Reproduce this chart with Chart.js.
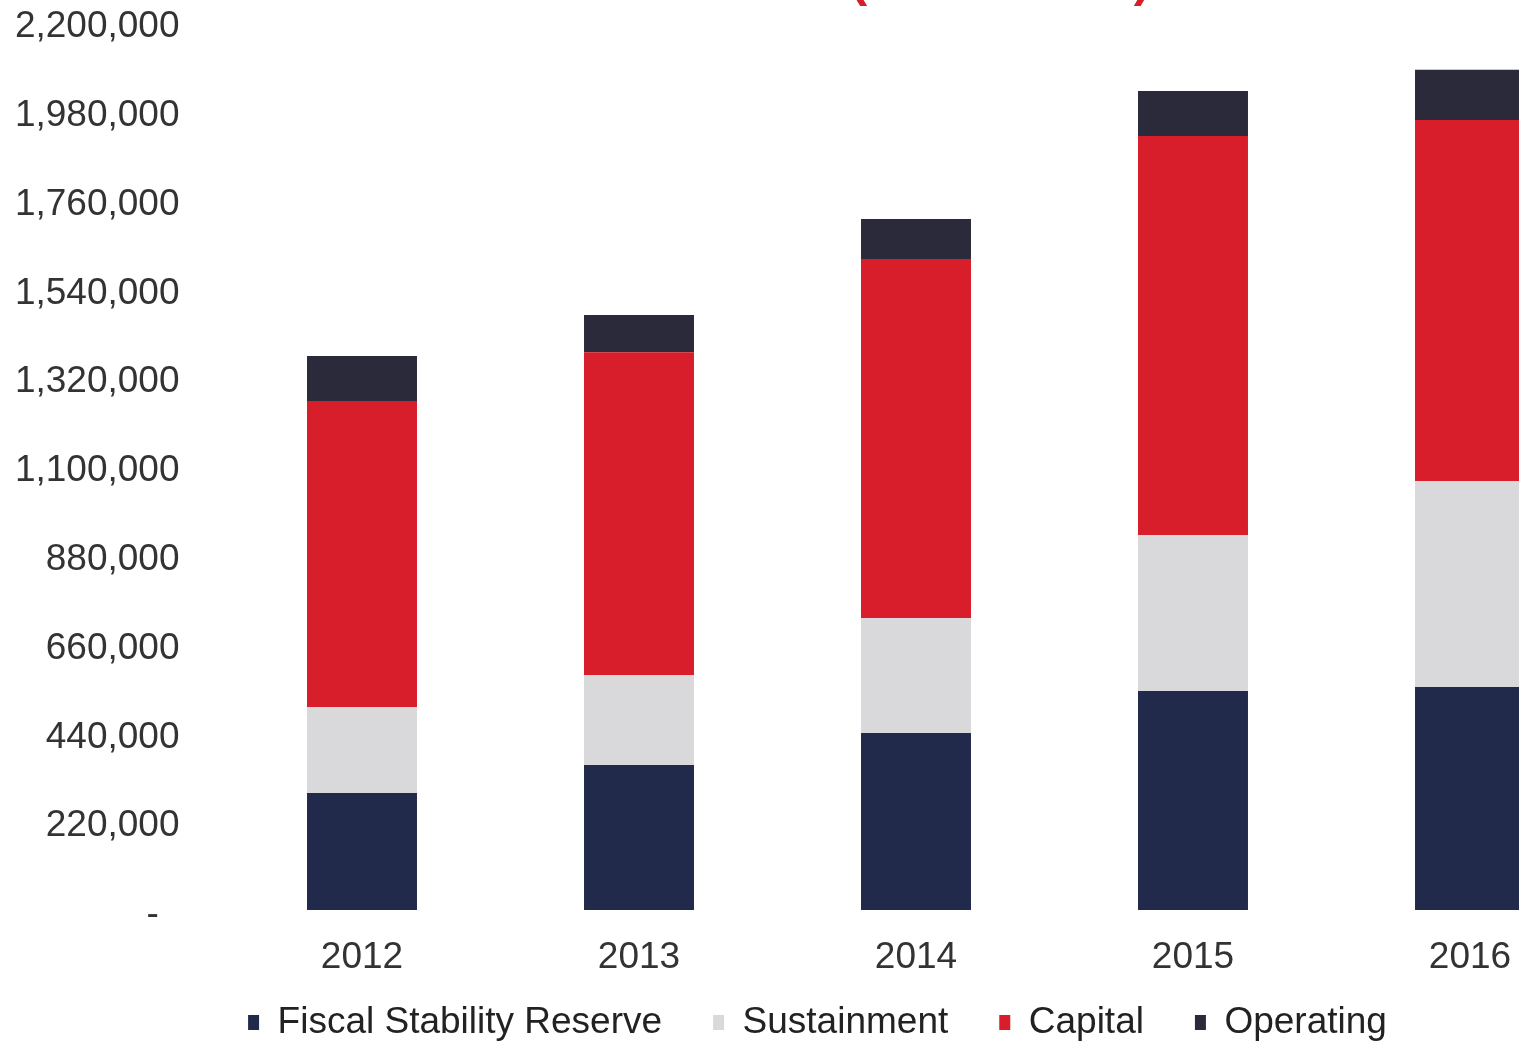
<!DOCTYPE html>
<html>
<head>
<meta charset="utf-8">
<title>Reserves by fund</title>
<script src="https://cdn.jsdelivr.net/npm/chart.js@4.4.1/dist/chart.umd.min.js"></script>
<style>
    html, body {
        margin: 0;
        padding: 0;
        background: #ffffff;
        overflow: hidden;
    }
    #wrap {
        position: absolute;
        left: 0;
        top: -51px;
        width: 1700px;
        height: 1127px;
    }
</style>
</head>
<body>
<div id="wrap">
    <canvas id="reserveChart" width="1700" height="1127"></canvas>
</div>
<script>
(function reserves () {
    'use strict';

    var years = ['2012', '2013', '2014', '2015', '2016'];

    var fiscalStability = [290000, 359000, 438500, 542500, 552500];
    var sustainment = [213000, 223000, 285000, 386500, 510500];
    var capital = [758000, 800000, 889500, 988500, 894500];
    var operating = [111500, 92000, 99000, 111500, 124000];

    var seriesNames = ['Fiscal Stability Reserve', 'Sustainment', 'Capital', 'Operating'];
    var seriesColors = ['#222a4c', '#d9d9db', '#d81e2a', '#2b2a3b'];

    var axisMax = 2200000;
    var axisStep = 220000;

    Chart.defaults.font.family = '"Liberation Sans", Arial, Helvetica, sans-serif';
    Chart.defaults.color = '#333333';

    var values = [fiscalStability, sustainment, capital, operating];
    var datasets = seriesNames.map(function (name, i) {
        return {
            label: name,
            data: values[i],
            backgroundColor: seriesColors[i],
            borderWidth: 0,
            categoryPercentage: 1,
            barPercentage: 0.397
        };
    });

    // legend sits tight under the year labels, title and legend a bit right of centre
    var nudgeBlocks = {
        id: 'nudgeBlocks',
        afterLayout: function (chart) {
            var legend = chart.legend;
            legend.top -= 25;
            legend.bottom -= 25;
            legend.left += 7;
            legend.right += 7;
            if (chart.titleBlock) {
                chart.titleBlock.left += 7;
                chart.titleBlock.right += 7;
            }
        }
    };

    var ctx = document.getElementById('reserveChart').getContext('2d');

    new Chart(ctx, {
        type: 'bar',
        data: {
            labels: years,
            datasets: datasets
        },
        plugins: [nudgeBlocks],
        options: {
            responsive: false,
            animation: false,
            layout: {
                padding: { left: 12.5, right: 91.5, top: 0, bottom: 0 }
            },
            plugins: {
                title: {
                    display: true,
                    text: 'Total Reserves (Thousands)',
                    color: '#d71f2b',
                    font: { size: 50, weight: 'bold' },
                    padding: { top: 3, bottom: 10 }
                },
                legend: {
                    position: 'bottom',
                    labels: {
                        boxWidth: 11,
                        boxHeight: 15,
                        padding: 51,
                        color: '#222222',
                        font: { size: 37 }
                    }
                },
                tooltip: { enabled: false }
            },
            scales: {
                x: {
                    stacked: true,
                    grid: { display: false, drawTicks: false },
                    border: { display: false },
                    ticks: {
                        padding: 26,
                        color: '#333333',
                        font: { size: 37 }
                    },
                    afterFit: function (scale) {
                        scale.height = 68;
                    }
                },
                y: {
                    stacked: true,
                    min: 0,
                    max: axisMax,
                    grid: { display: false, drawTicks: false },
                    border: { display: false },
                    ticks: {
                        stepSize: axisStep,
                        padding: 44,
                        labelOffset: 5,
                        color: '#333333',
                        font: { size: 37 },
                        callback: function (value) {
                            return value === 0 ? '-  ' : value.toLocaleString('en-US');
                        }
                    },
                    afterFit: function (scale) {
                        scale.width = 211;
                    }
                }
            }
        }
    });
}());
</script>
</body>
</html>
